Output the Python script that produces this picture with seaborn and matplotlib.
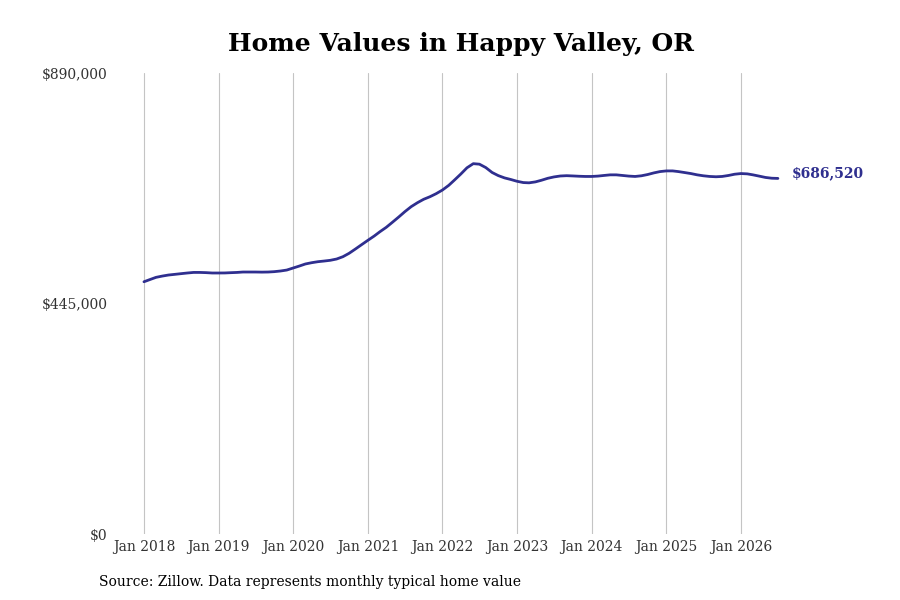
import numpy as np
import pandas as pd
import matplotlib
matplotlib.use("Agg")
import matplotlib.pyplot as plt
import matplotlib.dates as mdates
import seaborn as sns

title = "Home Values in Happy Valley, OR"
source = "Source: Zillow. Data represents monthly typical home value"
start_month = "2018-01-01"
values = [
    487000, 491500, 495500, 498000, 500000, 501300, 502600, 503900, 505000, 505000, 504600, 503900,
    503900, 504000, 504500, 505000, 505800, 505800, 505800, 505600, 505800, 506500, 507800, 509600,
    513500, 517400, 521300, 523800, 525700, 527000, 528400, 530900, 535400, 541900, 550200, 558500,
    567000, 575300, 583600, 592100, 601800, 612000, 622300, 632000, 639700, 646200, 651200, 657000,
    664100, 673200, 683400, 695000, 707000, 715000, 714000, 707500, 698000, 692000, 687500, 684500,
    681000, 678500, 678000, 679800, 683000, 686800, 689400, 691200, 691800, 691300, 690700, 690300,
    690300, 691000, 692200, 693400, 693400, 692200, 691000, 690300, 691600, 694000, 697200, 699700,
    701000, 701000, 699700, 697800, 695900, 693400, 691600, 690300, 689700, 690300, 692200, 694600,
    695900, 695300, 693400, 690900, 688400, 686900, 686520,
]
y_ticks = [0, 445000, 890000]
y_tick_labels = ["$0", "$445,000", "$890,000"]
x_tick_years = list(range(2018, 2027))

dates = pd.date_range(start_month, periods=len(values), freq="MS")
df = pd.DataFrame({"date": dates, "value": values})

sns.set_theme(style="white")
plt.rcParams["font.family"] = ["DejaVu Serif"]

line_color = "#2f2f8f"

fig = plt.figure(figsize=(9, 6), dpi=100)
ax = fig.add_axes([0.12, 0.11, 0.76, 0.7683])

sns.lineplot(data=df, x="date", y="value", ax=ax, color=line_color, linewidth=2.0)

ax.set_ylim(0, 890000)
x0 = pd.Timestamp("2018-01-01") - pd.Timedelta(days=176)
x1 = pd.Timestamp("2026-01-01") + pd.Timedelta(days=250)
ax.set_xlim(x0, x1)

ax.set_yticks(y_ticks)
ax.set_yticklabels(y_tick_labels)
xt = [pd.Timestamp(f"{y}-01-01") for y in x_tick_years]
ax.set_xticks(xt)
ax.set_xticklabels([f"Jan {y}" for y in x_tick_years])

ax.tick_params(axis="both", length=0, labelsize=10, colors="#333333")
ax.tick_params(axis="x", pad=4)
ax.tick_params(axis="y", pad=0.5)
ax.xaxis.grid(True, color="#c4c4c4", linewidth=0.8)
ax.yaxis.grid(False)
for s in ax.spines.values():
    s.set_visible(False)
ax.set_xlabel("")
ax.set_ylabel("")

ax.annotate(f"${values[-1]:,}", xy=(dates[-1], values[-1]), xytext=(10, 4),
            textcoords="offset points", ha="left", va="center",
            fontsize=10, fontweight="bold", color=line_color, annotation_clip=False)

fig.text(0.512, 0.927, title, ha="center", va="center", fontsize=18, fontweight="bold", color="black")
fig.text(0.11, 0.03, source, ha="left", va="center", fontsize=10, color="black")

fig.savefig("out.png", dpi=100)
